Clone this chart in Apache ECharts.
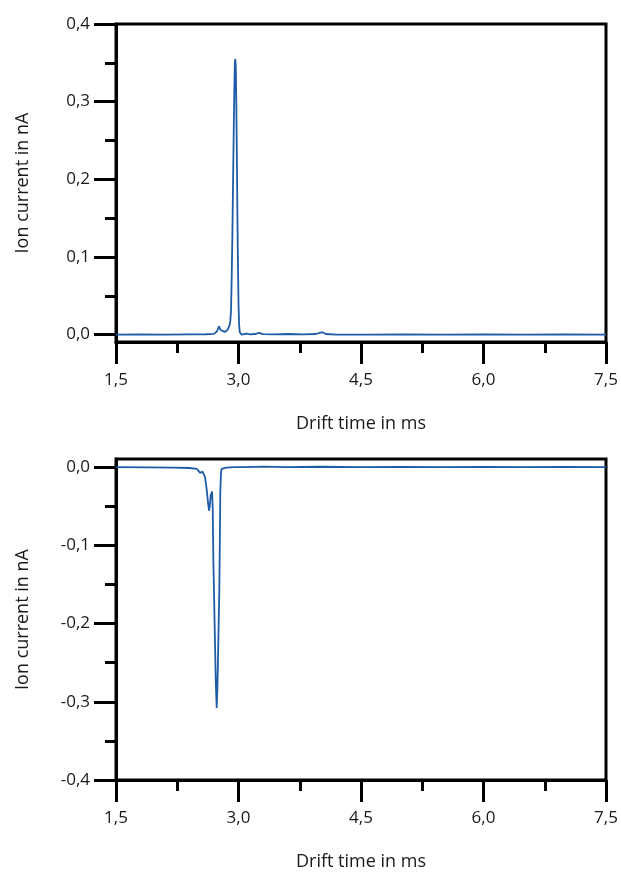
<!DOCTYPE html>
<html>
<head>
<meta charset="utf-8">
<script src="https://cdn.jsdelivr.net/npm/echarts@6/dist/echarts.min.js"></script>
<style>
html,body{margin:0;padding:0;background:#fff;}
#chart{width:621px;height:872px;}
</style>
</head>
<body>
<div id="chart"></div>
<script>
// ---- Data ----
const xTicks = [1.5, 3.0, 4.5, 6.0, 7.5];
const topYTicks = [0, 0.1, 0.2, 0.3, 0.4];
const topYMinor = [0.05, 0.15, 0.25, 0.35];
const bottomYTicks = [-0.4, -0.3, -0.2, -0.1, 0];
const bottomYMinor = [-0.35, -0.25, -0.15, -0.05];

// Top panel (positive ion current)
const topTime = [1.50, 1.80, 2.10, 2.40, 2.60, 2.70, 2.735, 2.761, 2.78, 2.80, 2.83, 2.855, 2.875, 2.890, 2.900, 2.908, 2.916, 2.924, 2.932, 2.940, 2.948, 2.955, 2.961, 2.967, 2.974, 2.980, 2.987, 2.994, 3.001, 3.008, 3.016, 3.038, 3.07, 3.10, 3.14, 3.20, 3.255, 3.30, 3.45, 3.60, 3.80, 3.95, 4.00, 4.03, 4.07, 4.20, 4.60, 5.00, 5.50, 6.00, 6.50, 7.00, 7.50];
const topCurrent = [0.000, 0.0003, 0.000, 0.0003, 0.0005, 0.001, 0.004, 0.0105, 0.006, 0.0035, 0.0035, 0.005, 0.008, 0.012, 0.018, 0.030, 0.070, 0.120, 0.185, 0.250, 0.310, 0.350, 0.355, 0.345, 0.290, 0.230, 0.150, 0.085, 0.036, 0.012, 0.003, 0.000, 0.0008, 0.0012, 0.0003, 0.0008, 0.0022, 0.0006, 0.0004, 0.0008, 0.0003, 0.0008, 0.0025, 0.003, 0.0008, 0.000, 0.000, 0.0003, 0.000, 0.0002, 0.000, 0.0002, 0.000];

// Bottom panel (negative ion current)
const bottomTime = [1.50, 1.90, 2.20, 2.40, 2.49, 2.53, 2.56, 2.59, 2.61, 2.63, 2.639, 2.648, 2.660, 2.676, 2.684, 2.692, 2.702, 2.712, 2.722, 2.733, 2.741, 2.749, 2.757, 2.765, 2.772, 2.777, 2.785, 2.794, 2.85, 2.95, 3.10, 3.30, 3.60, 4.00, 4.50, 5.00, 5.50, 6.00, 6.50, 7.00, 7.50];
const bottomCurrent = [0.000, -0.0003, -0.0005, -0.001, -0.002, -0.0073, -0.0056, -0.0128, -0.028, -0.048, -0.0556, -0.050, -0.036, -0.031, -0.050, -0.1176, -0.170, -0.224, -0.275, -0.308, -0.285, -0.246, -0.200, -0.160, -0.090, -0.032, -0.008, -0.002, -0.0005, 0.0002, 0.000, 0.0008, 0.000, 0.0006, 0.000, 0.0005, 0.000, 0.0004, 0.000, 0.0003, 0.000];

const xName = 'Drift time in ms';
const yName = 'Ion current in nA';

// ---- Styling ----
const FONT = '"Open Sans", sans-serif';
const TXT = '#1a1a1a';
const AX = '#000';
const LINE = '#1f5ca8';
const fmt = v => v.toFixed(1).replace('.', ',').replace(/^-0,0$/, '0,0');

function xAxis(grid) {
  return {
    type: 'value', gridIndex: grid, min: 1.5, max: 7.5, interval: 1.5,
    name: xName, nameLocation: 'middle', nameGap: 73,
    nameTextStyle: { fontFamily: FONT, fontSize: 18, color: TXT },
    axisLine: { onZero: false, lineStyle: { color: AX, width: 3 } },
    axisTick: { length: 22, lineStyle: { color: AX, width: 3 } },
    minorTick: { show: true, splitNumber: 2, length: 11, lineStyle: { color: AX, width: 3 } },
    splitLine: { show: false }, minorSplitLine: { show: false },
    axisLabel: { margin: 30, fontFamily: FONT, fontSize: 17, color: TXT, formatter: fmt }
  };
}
function yMajor(grid, min, max, ticks) {
  return {
    type: 'value', gridIndex: grid, min: min, max: max,
    name: yName, nameLocation: 'middle', nameGap: 84, nameRotate: 90,
    nameTextStyle: { fontFamily: FONT, fontSize: 18, color: TXT },
    axisLine: { onZero: false, lineStyle: { color: AX, width: 3 } },
    axisTick: { customValues: ticks, length: 22, lineStyle: { color: AX, width: 3 } },
    axisLabel: { customValues: ticks, margin: 26, fontFamily: FONT, fontSize: 17, color: TXT, formatter: fmt },
    splitLine: { show: false }
  };
}
function yMinor(grid, min, max, ticks) {
  return {
    type: 'value', gridIndex: grid, min: min, max: max, position: 'left',
    axisLine: { show: false, onZero: false },
    axisTick: { customValues: ticks, length: 11, lineStyle: { color: AX, width: 3 } },
    axisLabel: { show: false, customValues: ticks },
    splitLine: { show: false }
  };
}

const chart = echarts.init(document.getElementById('chart'), null, { renderer: 'canvas' });
chart.setOption({
  animation: false,
  backgroundColor: '#fff',
  grid: [
    { left: 116, right: 15, top: 24, height: 318, show: true, borderColor: AX, borderWidth: 3 },
    { left: 116, right: 15, top: 459, height: 321, show: true, borderColor: AX, borderWidth: 3 }
  ],
  xAxis: [xAxis(0), xAxis(1)],
  yAxis: [
    yMajor(0, -0.0095, 0.4, topYTicks),
    yMinor(0, -0.0095, 0.4, topYMinor),
    yMajor(1, -0.4, 0.0105, bottomYTicks),
    yMinor(1, -0.4, 0.0105, bottomYMinor)
  ],
  series: [
    {
      type: 'line', xAxisIndex: 0, yAxisIndex: 0, showSymbol: false, symbol: 'none',
      lineStyle: { color: LINE, width: 1.8 },
      data: topTime.map((t, i) => [t, topCurrent[i]])
    },
    {
      type: 'line', xAxisIndex: 1, yAxisIndex: 2, showSymbol: false, symbol: 'none',
      lineStyle: { color: LINE, width: 1.8 },
      data: bottomTime.map((t, i) => [t, bottomCurrent[i]])
    }
  ]
});
</script>
</body>
</html>
